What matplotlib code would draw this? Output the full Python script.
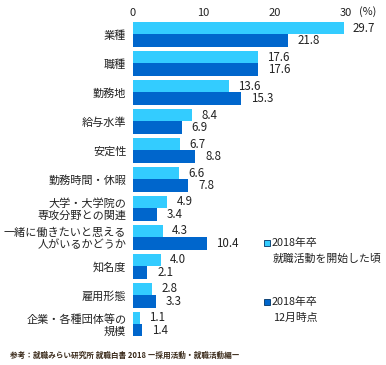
import matplotlib
matplotlib.use("Agg")
import matplotlib.pyplot as plt
from matplotlib.patches import Rectangle

plt.rcParams['font.family'] = ['Noto Sans CJK JP', 'DejaVu Sans']

categories = ["業種", "職種", "勤務地", "給与水準", "安定性", "勤務時間・休暇",
              "大学・大学院の\n専攻分野との関連", "一緒に働きたいと思える\n人がいるかどうか",
              "知名度", "雇用形態", "企業・各種団体等の\n規模"]
start_vals = [29.7, 17.6, 13.6, 8.4, 6.7, 6.6, 4.9, 4.3, 4.0, 2.8, 1.1]
dec_vals = [21.8, 17.6, 15.3, 6.9, 8.8, 7.8, 3.4, 10.4, 2.1, 3.3, 1.4]
xticks = [0, 10, 20, 30]
legend_labels = ["2018年卒\n就職活動を開始した頃", "2018年卒\n12月時点"]
source = "参考：就職みらい研究所 就職白書 2018 ―採用活動・就職活動編―"

LIGHT = "#33CCFF"
DARK = "#0066CC"
TXT = '#222222'
W, H = 386, 365
fig = plt.figure(figsize=(W/100, H/100), dpi=100)
x0, x1 = 132.5, 346.0
ytop, ybot = 20.0, 338.5
ax = fig.add_axes([x0/W, 1-ybot/H, (x1-x0)/W, (ybot-ytop)/H])
n = len(categories)
ys = list(range(n))
bh = 0.43
ax.barh([y - bh/2 for y in ys], start_vals, height=bh, color=LIGHT, edgecolor='none')
ax.barh([y + bh/2 for y in ys], dec_vals, height=bh, color=DARK, edgecolor='none')
ax.set_xlim(0, 30)
ax.set_ylim(n - 0.5, -0.5)
for s in ax.spines.values():
    s.set_visible(False)
ax.xaxis.tick_top()
ax.set_xticks(xticks)
ax.set_xticklabels([str(t) for t in xticks], fontsize=8, color=TXT)
ax.tick_params(axis='x', length=0, pad=1.5)
ax.set_yticks(ys)
ax.set_yticklabels(categories, fontsize=8.0, color=TXT, linespacing=1.15)
ax.tick_params(axis='y', length=0, pad=4.5)
fig.text(359/W, 1-12/H, "(%)", fontsize=7.8, color=TXT, va='center', ha='left')
for y, v in zip(ys, start_vals):
    ax.annotate(f"{v:.1f}", xy=(v, y - bh/2), xytext=(9, 0), textcoords='offset pixels',
                fontsize=8.3, va='center', ha='left', color=TXT, annotation_clip=False)
for y, v in zip(ys, dec_vals):
    ax.annotate(f"{v:.1f}", xy=(v, y + bh/2), xytext=(10, 0), textcoords='offset pixels',
                fontsize=8.3, va='center', ha='left', color=TXT, annotation_clip=False)

# legend
for (ly, lab, col) in [(243, legend_labels[0], LIGHT), (302, legend_labels[1], DARK)]:
    fig.add_artist(Rectangle((264/W, 1-(ly+3)/H), 6/W, 6/H, transform=fig.transFigure,
                             facecolor=col, edgecolor='#003366', linewidth=0.6))
    l1, l2 = lab.split("\n")
    fig.text(271.5/W, 1-ly/H, l1, fontsize=7.8, va='center', ha='left', color=TXT)
    fig.text(273/W, 1-(ly+16)/H, l2, fontsize=7.8, va='center', ha='left', color=TXT)

fig.text(10/W, 1-355/H, source, fontsize=5.5, va='center', ha='left', color='#3a2a1a',
         fontweight='bold')
fig.savefig("out.png", dpi=100)
